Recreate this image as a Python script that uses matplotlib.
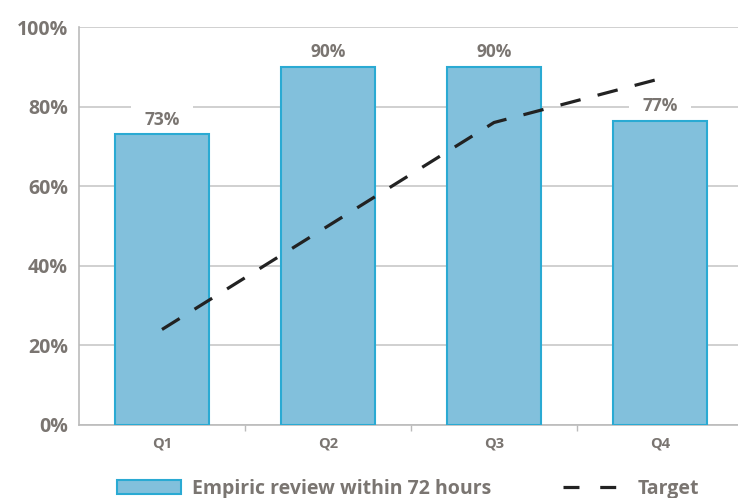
import matplotlib.pyplot as plt
from matplotlib.patches import Patch
from matplotlib.lines import Line2D

plt.rcParams['font.family'] = ['Open Sans', 'DejaVu Sans']

# Daten
quartale = ['Q1', 'Q2', 'Q3', 'Q4']
review_72h = [73, 90, 90, 76.5]
review_labels = ['73%', '90%', '90%', '77%']
target = [24, 50, 76, 87]
y_ticks = [0, 20, 40, 60, 80, 100]

grau = '#7a7571'
bar_fill = '#82c0dc'
bar_edge = '#2aaad3'

fig = plt.figure(figsize=(7.38, 4.98), dpi=100)
ax = fig.add_axes([79 / 738, 1 - 425 / 498, 664 / 738, 398 / 498])

x = list(range(len(quartale)))
ax.bar(x, review_72h, width=0.57, color=bar_fill, edgecolor=bar_edge,
       linewidth=1.5, zorder=3)
ax.plot(x, target, color='#222222', linewidth=2.3, dashes=(6.5, 5.5),
        zorder=4)

# Beschriftungen unter den Balken (zorder), damit der weisse Hintergrund nur die Gitterlinien verdeckt
for xi, val, lab in zip(x, review_72h, review_labels):
    ax.annotate(lab, (xi, val), xytext=(0, 4), textcoords='offset points',
                ha='center', va='bottom', fontsize=12.5, fontweight='bold',
                color=grau, zorder=2.5,
                bbox=dict(boxstyle='square,pad=0.75', facecolor='white',
                          edgecolor='none'))

ax.set_xlim(-0.5, 3.5)
ax.set_ylim(0, 100)
ax.set_yticks(y_ticks)
ax.set_yticklabels([f'{v}%' for v in y_ticks], fontsize=14,
                   fontweight='bold', color=grau)
ax.set_xticks(x)
ax.set_xticklabels(quartale, fontsize=10.5, fontweight='bold', color=grau)
ax.tick_params(axis='x', length=0, pad=8)
ax.tick_params(axis='y', length=0, pad=8)
ax.set_xticks([0.5, 1.5, 2.5], minor=True)
ax.tick_params(axis='x', which='minor', length=4, color='#bbbbbb', width=1)

ax.grid(axis='y', color='#c8c8c8', linewidth=1.2, zorder=0)
ax.set_axisbelow(True)
for side in ['top', 'right']:
    ax.spines[side].set_visible(False)
ax.spines['left'].set_color('#bbbbbb')
ax.spines['bottom'].set_color('#bbbbbb')
ax.spines['left'].set_linewidth(1.2)
ax.spines['bottom'].set_linewidth(1.2)

handles = [Patch(facecolor=bar_fill, edgecolor=bar_edge, linewidth=1.5),
           Line2D([], [], color='#222222', linewidth=2.3, dashes=(5, 6.5))]
fig.legend(handles, ['Empiric review within 72 hours', 'Target'],
           loc='center left', bbox_to_anchor=(117 / 738, 1 - 489 / 498),
           ncol=2, frameon=False, borderpad=0, borderaxespad=0,
           handlelength=3.3, handletextpad=0.55, columnspacing=3.7,
           prop={'size': 14, 'weight': 'bold'}, labelcolor=grau)

fig.savefig('out.png', dpi=100)
